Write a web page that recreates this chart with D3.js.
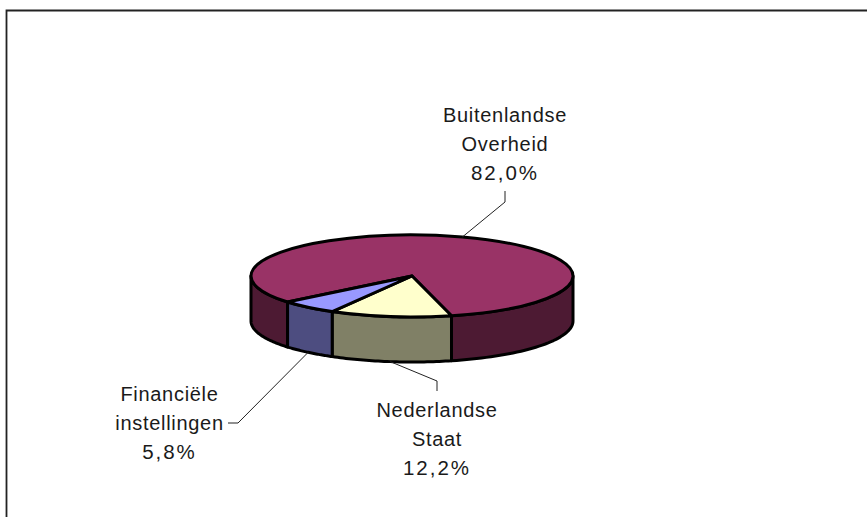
<!DOCTYPE html>
<html>
<head>
<meta charset="utf-8">
<title>Pie</title>
<script src="https://d3js.org/d3.v7.min.js"></script>
<style>
  html, body { margin: 0; padding: 0; background: #fff; overflow: hidden; }
  text { font-family: "Liberation Sans", Arial, sans-serif; font-size: 20px; fill: #1a1a1a; text-anchor: middle; letter-spacing: 0.7px; }
  .pct { letter-spacing: 2px; font-size: 20.5px; }
</style>
</head>
<body>
<svg id="chart" width="867" height="517"></svg>
<script>
  const categories = ["Buitenlandse Overheid", "Nederlandse Staat", "Financiële instellingen"];
  const shares = [82.0, 12.2, 5.8];
  const shareLabels = ["82,0%", "12,2%", "5,8%"];
  const topColors = ["#993366", "#ffffcc", "#9999ff"];
  const sideColors = ["#4d1a33", "#808066", "#4d4d80"];

  const cx = 412, cy = 276, rx = 161, ry = 41, depth = 45;
  const rad = d => d * Math.PI / 180;

  const svg = d3.select("#chart");

  // outer frame: only top and left show, the rest runs off the picture
  svg.append("path")
    .attr("d", d3.line()([[6.5, 517], [6.5, 10.5], [867, 10.5]]))
    .attr("fill", "none").attr("stroke", "#222").attr("stroke-width", 1.8);

  // first slice starts a little past the back left
  const pie = d3.pie().sort(null).startAngle(rad(230.6)).endAngle(rad(230.6 + 360));
  const slices = pie(shares);

  // angle (0 = up, clockwise) to a point on the rim
  const rimX = d3.scaleLinear().domain([-1, 1]).range([cx - rx, cx + rx]);
  const rimY = d3.scaleLinear().domain([-1, 1]).range([cy - ry, cy + ry]);
  const rim = (a, drop) => [rimX(Math.sin(a)), rimY(-Math.cos(a)) + drop];

  // visible walls: only the front half of the cylinder
  const frontHalves = [[rad(90), rad(270)], [rad(450), rad(630)]];
  const wallLine = d3.line();
  function wallPath(a0, a1) {
    const n = 40;
    const top = d3.range(n + 1).map(i => rim(a0 + (a1 - a0) * i / n, 0));
    const bottom = d3.range(n + 1).map(i => rim(a1 - (a1 - a0) * i / n, depth));
    return wallLine(top.concat(bottom)) + "Z";
  }

  const walls = svg.append("g");
  slices.forEach((s, i) => {
    frontHalves.forEach(h => {
      const a0 = Math.max(s.startAngle, h[0]);
      const a1 = Math.min(s.endAngle, h[1]);
      if (a1 > a0) {
        walls.append("path")
          .attr("d", wallPath(a0, a1))
          .attr("fill", sideColors[i])
          .attr("stroke", "#000").attr("stroke-width", 3)
          .attr("stroke-linejoin", "round");
      }
    });
  });

  // top face, d3.arc squashed into an ellipse
  const arc = d3.arc().innerRadius(0).outerRadius(rx);
  svg.append("g")
    .attr("transform", `translate(${cx},${cy}) scale(1,${ry / rx})`)
    .selectAll("path")
    .data(slices)
    .enter()
    .append("path")
    .attr("d", arc)
    .attr("fill", (d, i) => topColors[i])
    .attr("stroke", "#000").attr("stroke-width", 3)
    .attr("stroke-linejoin", "round")
    .attr("vector-effect", "non-scaling-stroke");

  // leader lines start on the rim at each slice's middle angle
  const leaderBends = [[[505, 202], [505, 191]], [[437, 381], [437, 391]], [[238, 423], [228, 423]]];
  const leaderDrop = [0, depth, depth];
  const labelAt = [[505, 122], [437, 417], [169.5, 401]];

  slices.forEach((s, i) => {
    const mid = (s.startAngle + s.endAngle) / 2;
    svg.append("path")
      .attr("d", d3.line()([rim(mid, leaderDrop[i])].concat(leaderBends[i])))
      .attr("fill", "none").attr("stroke", "#222").attr("stroke-width", 1);

    const lines = categories[i].split(" ").concat(shareLabels[i]);
    const t = svg.append("text");
    lines.forEach((line, j) => {
      t.append("tspan")
        .attr("class", j === lines.length - 1 ? "pct" : null)
        .attr("x", labelAt[i][0])
        .attr("y", labelAt[i][1] + j * 29)
        .text(line);
    });
  });
</script>
</body>
</html>
